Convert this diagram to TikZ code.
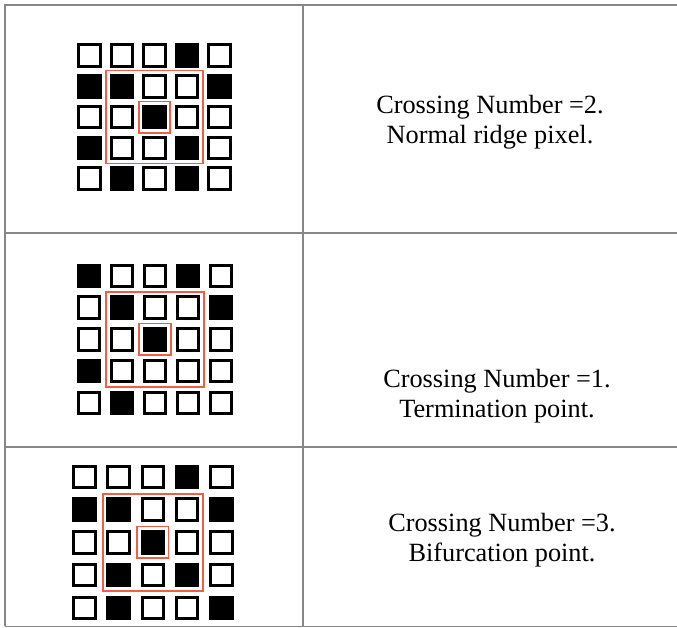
\documentclass[tikz,border=0pt]{standalone}
\usepackage{fontspec}
\setmainfont{Liberation Serif}
\usepackage{xcolor}
\usepackage{tikz}
\definecolor{rulecolor}{RGB}{135, 135, 135}
\definecolor{windowcolor}{RGB}{238, 96, 70}
\usetikzlibrary{positioning, fit}

% one 5x5 neighbourhood: name, x0, y0, dx, dy, rows of bits
\newcommand{\pixgrid}[6]{%
    \foreach \bits [count=\r] in {#6} {
        \foreach \b [count=\c] in \bits {
            \node[pix\b] (#1-\r-\c) at ({#2+(\c-1)*#4}, {#3+(\r-1)*#5}) {};
        }
    }
    \node[window, fit=(#1-2-2)(#1-4-4)] (#1-outer) {};
    \node[window, fit=(#1-3-3)] (#1-inner) {};
}

\begin{document}
\begin{tikzpicture}[
    x=1pt, y=-1pt,
    pix0/.style={rectangle, draw=black, fill=white, line width=3pt, minimum width=21.5pt, minimum height=21.5pt, inner sep=0pt},
    pix1/.style={pix0, fill=black},
    window/.style={rectangle, draw=windowcolor, line width=1.6pt, inner sep=3.5pt},
    caption/.style={align=center, font=\fontsize{26.3}{30}\selectfont},
    rule/.style={draw=rulecolor, line width=2pt}
]
    \useasboundingbox (0, 0) rectangle (677, 628);

    % table
    \draw[rule] (4.5, 626) -- (4.5, 5) -- (677, 5);
    \draw[rule] (303, 5) -- (303, 626);
    \draw[rule] (4.5, 233) -- (677, 233);
    \draw[rule] (4.5, 447) -- (677, 447);
    \draw[rule, line width=1pt] (4.5, 626) -- (677, 626);

    % Crossing number 2
    \pixgrid{ridge}{89.5}{55.5}{32.5}{30.8}{{0,0,0,1,0},{1,1,0,0,1},{0,0,1,0,0},{1,0,0,1,0},{0,1,0,1,0}}
    \node[caption] (ridgetext) at (490, 122) {Crossing Number =2.\\Normal ridge pixel.};

    % Crossing number 1
    \pixgrid{term}{89}{276}{33}{31.7}{{1,0,0,1,0},{0,1,0,0,1},{0,0,1,0,0},{1,0,0,0,0},{0,1,0,0,0}}
    \node[caption] (termtext) at (497, 396) {Crossing Number =1.\\Termination point.};

    % Crossing number 3
    \pixgrid{bif}{84.5}{477}{34.2}{32.7}{{0,0,0,1,0},{1,1,0,0,1},{0,0,1,0,0},{0,1,0,1,0},{0,1,0,0,1}}
    \node[caption] (biftext) at (502, 540) {Crossing Number =3.\\Bifurcation point.};
\end{tikzpicture}
\end{document}
